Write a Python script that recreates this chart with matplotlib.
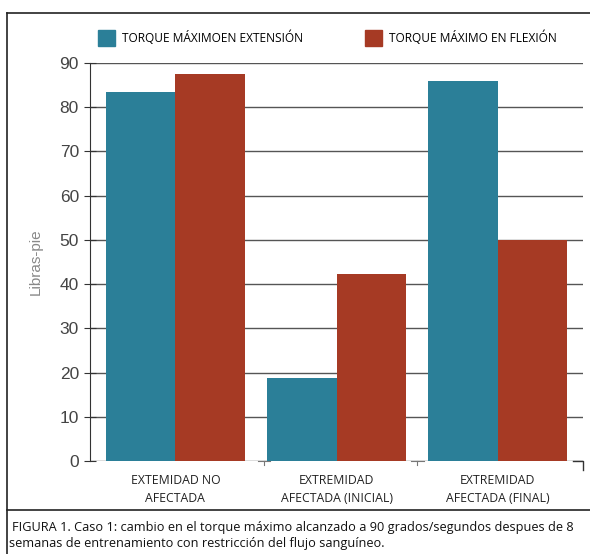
import matplotlib.pyplot as plt
import numpy as np
import matplotlib.patches as mpatches
from matplotlib.lines import Line2D

grupos = ['EXTEMIDAD NO\nAFECTADA', 'EXTREMIDAD\nAFECTADA (INICIAL)', 'EXTREMIDAD\nAFECTADA (FINAL)']
extension = [83.5, 18.8, 86]
flexion = [87.5, 42.3, 50]
yticks = [0, 10, 20, 30, 40, 50, 60, 70, 80, 90]

azul = '#2b7f98'
rojo = '#a63a24'

fig = plt.figure(figsize=(5.9, 5.54), dpi=100)
ax = fig.add_axes([90/590, 1 - 461/554, 493/590, 398/554])

x = np.arange(len(grupos))
w = 0.43
ax.bar(x - w/2, extension, w, color=azul, zorder=3)
ax.bar(x + w/2, flexion, w, color=rojo, zorder=3)

ax.set_xlim(-0.53, 2.53)
ax.set_ylim(0, 90)
ax.set_yticks(yticks)
ax.yaxis.grid(color='#555555', linewidth=1, zorder=1)
ax.set_axisbelow(True)
for s in ['top', 'right', 'bottom']:
    ax.spines[s].set_visible(False)
ax.spines['left'].set_color('#333333')
ax.tick_params(axis='y', direction='inout', length=8, colors='#333333',
               labelcolor='#444444', labelsize=12.5, pad=4)
for t in ax.get_yticklabels():
    t.set_family('Liberation Sans')
ax.set_xticks([])

# etiquetas de los grupos
for i, g in enumerate(grupos):
    ax.text(i, -3, g, ha='center', va='top', fontsize=8.8, family='Open Sans',
            color='#222222', linespacing=1.5)
# pequeñas marcas entre grupos
for b in [0.55, 1.5]:
    ax.plot([b - 0.04, b + 0.04], [0, 0], color='#777777', lw=0.8, clip_on=False)
    ax.plot([b, b], [0, -1], color='#777777', lw=0.8, clip_on=False)
ax.plot([2.47, 2.53, 2.53], [0, 0, -2], color='#333333', lw=1, clip_on=False)

ax.set_ylabel('Libras-pie', color='#888888', fontsize=11, labelpad=12,
              family='Liberation Sans')

# leyenda
h1 = mpatches.Patch(color=azul, label='TORQUE MÁXIMOEN EXTENSIÓN')
h2 = mpatches.Patch(color=rojo, label='TORQUE MÁXIMO EN FLEXIÓN')
fig.legend(handles=[h1, h2], loc='center', bbox_to_anchor=(0.555, 1 - 38/554),
           ncol=2, frameon=False, handlelength=1.4, handleheight=1.6,
           columnspacing=5.2, handletextpad=0.6,
           prop={'family': 'Open Sans', 'size': 8.6})

# marco exterior
fig.add_artist(Line2D([7/590, 7/590], [0, 1 - 13/554], color='#222222', lw=1.2))
fig.add_artist(Line2D([7/590, 1], [1 - 13/554, 1 - 13/554], color='#222222', lw=1.2))
fig.add_artist(Line2D([7/590, 1], [1 - 510/554, 1 - 510/554], color='#222222', lw=1.2))

fig.text(12/590, 1 - 527/554,
         'FIGURA 1. Caso 1: cambio en el torque máximo alcanzado a 90 grados/segundos despues de 8',
         fontsize=9.2, family='Open Sans', va='center', color='#111111')
fig.text(9/590, 1 - 543/554,
         'semanas de entrenamiento con restricción del flujo sanguíneo.',
         fontsize=9.2, family='Open Sans', va='center', color='#111111')

fig.savefig('out.png', dpi=100)
